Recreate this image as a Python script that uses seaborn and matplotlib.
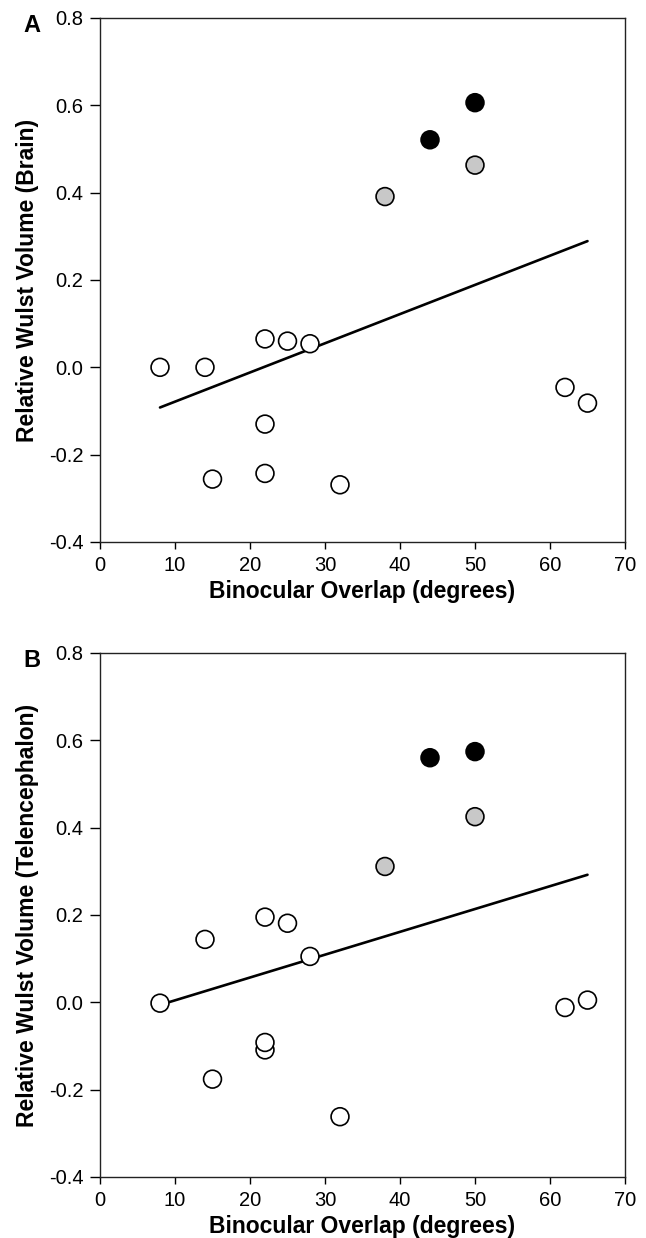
import numpy as np
import pandas as pd
import matplotlib
matplotlib.use("Agg")
import matplotlib.pyplot as plt
import seaborn as sns

# Binocular overlap (degrees) for each species, same order in both panels
overlap = [8, 14, 22, 25, 28, 22, 15, 22, 32, 62, 65, 38, 50, 44, 50]
group = ["open"] * 11 + ["grey"] * 2 + ["black"] * 2

# Panel A: relative Wulst volume (brain)
wulst_brain = [0.000, 0.000, 0.065, 0.060, 0.054, -0.130, -0.256, -0.243, -0.269,
               -0.046, -0.082, 0.391, 0.463, 0.521, 0.606]
# Panel B: relative Wulst volume (telencephalon)
wulst_tel = [-0.002, 0.144, 0.195, 0.181, 0.105, -0.109, -0.176, -0.092, -0.262,
             -0.012, 0.005, 0.311, 0.425, 0.560, 0.574]

# regression lines as drawn in the figure (endpoints)
fit_x = [8, 65]
fit_brain = [-0.092, 0.289]
fit_tel = [-0.006, 0.292]

xticks = [0, 10, 20, 30, 40, 50, 60, 70]
yticks = [-0.4, -0.2, 0.0, 0.2, 0.4, 0.6, 0.8]

sns.set_style("white")
plt.rcParams["font.family"] = ["Liberation Sans", "DejaVu Sans"]
plt.rcParams["text.color"] = "black"
plt.rcParams["axes.labelcolor"] = "black"

palette = {"open": "white", "grey": "#c8c8c8", "black": "black"}

fig = plt.figure(figsize=(6.46, 12.38), dpi=100)
panels = [
    ("A", wulst_brain, fit_brain, "Relative Wulst Volume (Brain)", 0.5622),
    ("B", wulst_tel, fit_tel, "Relative Wulst Volume (Telencephalon)", 0.0493),
]

for letter, yvals, fit_y, ylabel, bottom in panels:
    ax = fig.add_axes([0.1548, bottom, 0.8127, 0.4233])
    df = pd.DataFrame({"x": overlap, "y": yvals, "g": group})
    ax.plot(fit_x, fit_y, color="black", lw=1.9, zorder=2)
    sns.scatterplot(data=df, x="x", y="y", hue="g", palette=palette, s=165,
                    edgecolor="black", linewidth=1.2, legend=False, ax=ax, zorder=3)
    ax.set_xlim(0, 70)
    ax.set_ylim(-0.4, 0.8)
    ax.set_xticks(xticks)
    ax.set_yticks(yticks)
    ax.set_yticklabels([f"{v:.1f}" for v in yticks])
    ax.tick_params(axis="both", direction="out", width=1, labelsize=14.5,
                   bottom=True, left=True, top=False, right=False, colors="black")
    ax.tick_params(axis="y", length=7, pad=5)
    ax.tick_params(axis="x", length=5, pad=5)
    for sp in ax.spines.values():
        sp.set_color("#222222")
        sp.set_linewidth(1.0)
    ax.set_xlabel("Binocular Overlap (degrees)", fontsize=16.5, fontweight="bold", labelpad=4)
    ax.set_ylabel(ylabel, fontsize=16.5, fontweight="bold", labelpad=7)
    ax.text(-0.13, 0.985, letter, transform=ax.transAxes, fontsize=17, fontweight="bold",
            ha="center", va="center")

fig.savefig("out.png", dpi=100)
